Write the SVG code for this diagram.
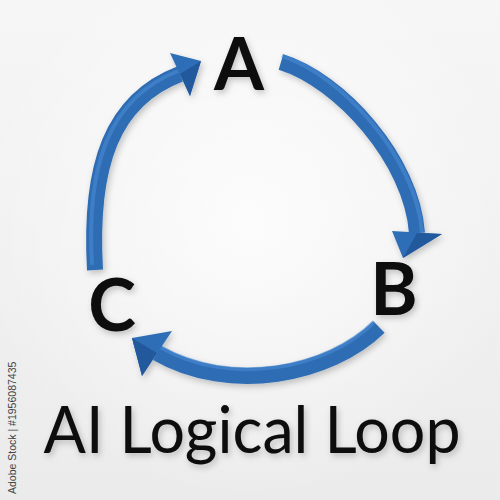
<svg xmlns="http://www.w3.org/2000/svg" width="500" height="500" viewBox="0 0 500 500">
  <defs>
    <linearGradient id="bg" x1="0" y1="0" x2="0" y2="1">
      <stop offset="0" stop-color="#f6f6f6"/>
      <stop offset="1" stop-color="#ebebeb"/>
    </linearGradient>
    <radialGradient id="glow" cx="0.5" cy="0.45" r="0.55">
      <stop offset="0" stop-color="#ffffff" stop-opacity="0.8"/>
      <stop offset="1" stop-color="#ffffff" stop-opacity="0"/>
    </radialGradient>
    <filter id="shadow" filterUnits="userSpaceOnUse" x="0" y="0" width="500" height="500">
      <feDropShadow dx="2" dy="3" stdDeviation="3" flood-color="#000" flood-opacity="0.22"/>
    </filter>
  </defs>
  <style>
    .shaft { fill: none; stroke: #2e6cb4; stroke-width: 16; stroke-linecap: butt; }
    .hi { fill: none; stroke: #4a8ad2; stroke-width: 4; stroke-linecap: butt; opacity: 0.6; }
    .head { fill: #2f6eb6; }
    .facet { fill: #22589c; }
    .lbl { font-family: Lato, "Liberation Sans", sans-serif; font-weight: 700; font-size: 72px; fill: #0a0a0a; text-anchor: middle; }
    .title { font-family: Lato, "Liberation Sans", sans-serif; font-weight: 400; font-size: 66px; fill: #0a0a0a; text-anchor: middle; }
    .credit { font-family: "Liberation Sans", Arial, sans-serif; font-size: 10.5px; fill: #444; }
  </style>
  <rect width="500" height="500" fill="url(#bg)"/>
  <rect width="500" height="500" fill="url(#glow)"/>

  <g id="connectors" filter="url(#shadow)">
    <g id="edge-C-A">
      <path class="shaft" d="M 95 270 C 89 165, 112 100, 180 74"/>
      <path class="hi" d="M 92 265 C 86 165, 109 98, 178 71"/>
      <polygon class="head" points="170,53 201,61 190,96"/>
      <polygon class="facet" points="180,74 201,61 190,96"/>
    </g>
    <g id="edge-A-B">
      <path class="shaft" d="M 281 62 C 340 80, 412 160, 417 233"/>
      <path class="hi" d="M 282 56 C 342 75, 416 158, 422 232"/>
      <polygon class="head" points="392,231 442,234 403,258"/>
      <polygon class="facet" points="417,233 442,234 403,258"/>
    </g>
    <g id="edge-B-C">
      <path class="shaft" d="M 379 327 C 330 375, 230 395, 157 353"/>
      <path class="hi" d="M 374 322 C 328 368, 232 388, 160 347"/>
      <polygon class="head" points="172,331 132,338 142,376"/>
      <polygon class="facet" points="157,353 132,338 142,376"/>
    </g>
  </g>

  <g id="node-A" filter="url(#shadow)">
    <text class="lbl" x="239" y="90">A</text>
  </g>
  <g id="node-B" filter="url(#shadow)">
    <text class="lbl" x="394" y="315">B</text>
  </g>
  <g id="node-C" filter="url(#shadow)">
    <text class="lbl" x="112" y="331">C</text>
  </g>

  <g id="title" filter="url(#shadow)">
    <text class="title" transform="translate(252,453) scale(0.95,1)" x="0" y="0">AI Logical Loop</text>
  </g>

  <text class="credit" transform="translate(16,494) rotate(-90)">Adobe Stock | #1956087435</text>
</svg>
